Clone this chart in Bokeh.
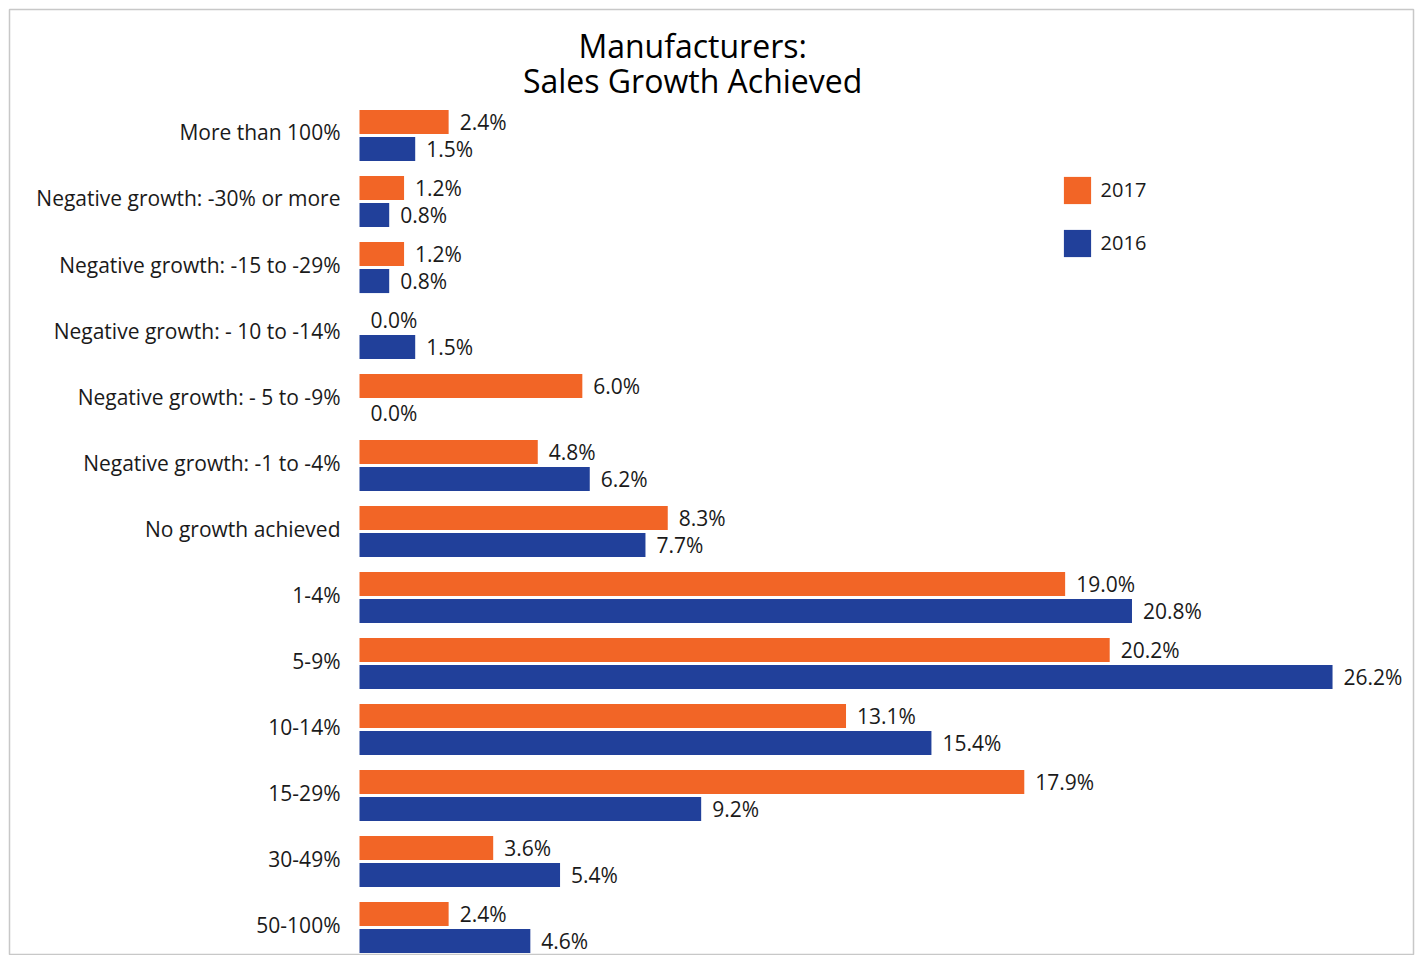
import numpy as np
from bokeh.plotting import figure
from bokeh.models import ColumnDataSource, Range1d, Legend, LegendItem
from bokeh.core.properties import value
from bokeh.embed import file_html
from bokeh.resources import INLINE

categories = [
    "More than 100%",
    "Negative growth: -30% or more",
    "Negative growth: -15 to -29%",
    "Negative growth: - 10 to -14%",
    "Negative growth: - 5 to -9%",
    "Negative growth: -1 to -4%",
    "No growth achieved",
    "1-4%",
    "5-9%",
    "10-14%",
    "15-29%",
    "30-49%",
    "50-100%",
]
values_2017 = [2.4, 1.2, 1.2, 0.0, 6.0, 4.8, 8.3, 19.0, 20.2, 13.1, 17.9, 3.6, 2.4]
values_2016 = [1.5, 0.8, 0.8, 1.5, 0.0, 6.2, 7.7, 20.8, 26.2, 15.4, 9.2, 5.4, 4.6]
series_names = ["2017", "2016"]
title_lines = ["Manufacturers:", "Sales Growth Achieved"]

ORANGE = "#F26526"
BLUE = "#21409A"
FONT = "Open Sans"
TXT = "#1a1a1a"

n = len(categories)
ypos = np.arange(n)[::-1].astype(float)  # top category highest
off = 0.205
bar_h = 0.365

src17 = ColumnDataSource(dict(y=ypos + off, v=values_2017,
                              lbl=[f"{v:.1f}%" for v in values_2017]))
src16 = ColumnDataSource(dict(y=ypos - off, v=values_2016,
                              lbl=[f"{v:.1f}%" for v in values_2016]))
srccat = ColumnDataSource(dict(y=ypos, x=[0.0] * n, lbl=categories))

W, H = 1418, 955
p = figure(width=W, height=H, output_backend="svg", toolbar_location=None,
           x_range=Range1d(-9.424, 28.38), y_range=Range1d(-0.424, 13.909),
           min_border_left=9, min_border_right=5, min_border_top=9, min_border_bottom=0)
p.xaxis.visible = False
p.yaxis.visible = False
p.grid.visible = False
p.outline_line_color = "#c8c8c8"
p.outline_line_width = 1.5
p.background_fill_color = "white"
p.border_fill_color = "white"

r17 = p.hbar(y="y", right="v", left=0, height=bar_h, source=src17,
             fill_color=ORANGE, line_color=None)
r16 = p.hbar(y="y", right="v", left=0, height=bar_h, source=src16,
             fill_color=BLUE, line_color=None)

for s in (src17, src16):
    p.text(x="v", y="y", text="lbl", source=s, x_offset=11,
           text_align="left", text_baseline="middle",
           text_font=value(FONT), text_font_size="21px", text_color=TXT)

p.text(x="x", y="y", text="lbl", source=srccat, x_offset=-19, y_offset=-3,
       text_align="right", text_baseline="middle",
       text_font=value(FONT), text_font_size="21px", text_color=TXT)

tsrc = ColumnDataSource(dict(x=[8.97, 8.97], y=[13.36, 12.84], t=title_lines))
p.text(x="x", y="y", text="t", source=tsrc, text_align="center",
       text_baseline="middle", text_font=value(FONT), text_font_size="32px",
       text_color="black")

legend = Legend(items=[LegendItem(label=series_names[0], renderers=[r17]),
                       LegendItem(label=series_names[1], renderers=[r16])],
                location=(1050.6, 695.4), orientation="vertical",
                glyph_width=34, glyph_height=34, spacing=19, label_standoff=7,
                padding=0, margin=0, border_line_color=None,
                background_fill_alpha=0, label_text_font=FONT,
                label_text_font_size="20px", label_text_color=TXT)
p.add_layout(legend)

open("out.html", "w").write(file_html(p, INLINE))
